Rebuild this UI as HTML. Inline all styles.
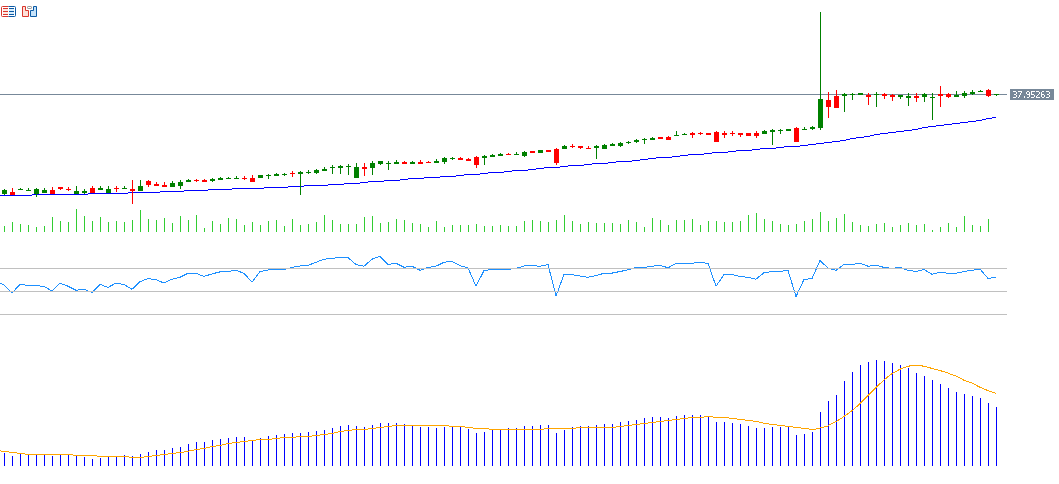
<!DOCTYPE html>
<html><head><meta charset="utf-8"><style>
html,body{margin:0;padding:0;background:#fff;width:1059px;height:484px;overflow:hidden;position:relative}
</style></head><body>
<svg width="1059" height="484" style="position:absolute;left:0;top:0" shape-rendering="crispEdges">
<rect x="0" y="94" width="1007" height="1" fill="#778899"/>
<rect x="0" y="195" width="32" height="1" fill="#0000ff"/>
<rect x="32" y="194" width="56" height="1" fill="#0000ff"/>
<rect x="88" y="193" width="40" height="1" fill="#0000ff"/>
<rect x="128" y="192" width="32" height="1" fill="#0000ff"/>
<rect x="160" y="191" width="24" height="1" fill="#0000ff"/>
<rect x="184" y="190" width="24" height="1" fill="#0000ff"/>
<rect x="208" y="189" width="24" height="1" fill="#0000ff"/>
<rect x="232" y="188" width="32" height="1" fill="#0000ff"/>
<rect x="264" y="187" width="24" height="1" fill="#0000ff"/>
<rect x="288" y="186" width="16" height="1" fill="#0000ff"/>
<rect x="304" y="185" width="24" height="1" fill="#0000ff"/>
<rect x="328" y="184" width="16" height="1" fill="#0000ff"/>
<rect x="344" y="183" width="16" height="1" fill="#0000ff"/>
<rect x="360" y="182" width="8" height="1" fill="#0000ff"/>
<rect x="368" y="181" width="16" height="1" fill="#0000ff"/>
<rect x="384" y="180" width="16" height="1" fill="#0000ff"/>
<rect x="400" y="179" width="8" height="1" fill="#0000ff"/>
<rect x="408" y="178" width="16" height="1" fill="#0000ff"/>
<rect x="424" y="177" width="16" height="1" fill="#0000ff"/>
<rect x="440" y="176" width="16" height="1" fill="#0000ff"/>
<rect x="456" y="175" width="8" height="1" fill="#0000ff"/>
<rect x="464" y="174" width="16" height="1" fill="#0000ff"/>
<rect x="480" y="173" width="8" height="1" fill="#0000ff"/>
<rect x="488" y="172" width="16" height="1" fill="#0000ff"/>
<rect x="504" y="171" width="8" height="1" fill="#0000ff"/>
<rect x="512" y="170" width="16" height="1" fill="#0000ff"/>
<rect x="528" y="169" width="8" height="1" fill="#0000ff"/>
<rect x="536" y="168" width="8" height="1" fill="#0000ff"/>
<rect x="544" y="167" width="16" height="1" fill="#0000ff"/>
<rect x="560" y="166" width="8" height="1" fill="#0000ff"/>
<rect x="568" y="165" width="16" height="1" fill="#0000ff"/>
<rect x="584" y="164" width="8" height="1" fill="#0000ff"/>
<rect x="592" y="163" width="16" height="1" fill="#0000ff"/>
<rect x="608" y="162" width="8" height="1" fill="#0000ff"/>
<rect x="616" y="161" width="16" height="1" fill="#0000ff"/>
<rect x="632" y="160" width="8" height="1" fill="#0000ff"/>
<rect x="640" y="159" width="8" height="1" fill="#0000ff"/>
<rect x="648" y="158" width="8" height="1" fill="#0000ff"/>
<rect x="656" y="157" width="16" height="1" fill="#0000ff"/>
<rect x="672" y="156" width="8" height="1" fill="#0000ff"/>
<rect x="680" y="155" width="8" height="1" fill="#0000ff"/>
<rect x="688" y="154" width="16" height="1" fill="#0000ff"/>
<rect x="704" y="153" width="8" height="1" fill="#0000ff"/>
<rect x="712" y="152" width="16" height="1" fill="#0000ff"/>
<rect x="728" y="151" width="8" height="1" fill="#0000ff"/>
<rect x="736" y="150" width="16" height="1" fill="#0000ff"/>
<rect x="752" y="149" width="8" height="1" fill="#0000ff"/>
<rect x="760" y="148" width="16" height="1" fill="#0000ff"/>
<rect x="776" y="147" width="8" height="1" fill="#0000ff"/>
<rect x="784" y="146" width="16" height="1" fill="#0000ff"/>
<rect x="800" y="145" width="8" height="1" fill="#0000ff"/>
<rect x="808" y="144" width="8" height="1" fill="#0000ff"/>
<rect x="816" y="143" width="8" height="1" fill="#0000ff"/>
<rect x="824" y="142" width="8" height="1" fill="#0000ff"/>
<rect x="832" y="141" width="8" height="1" fill="#0000ff"/>
<rect x="840" y="140" width="6" height="1" fill="#0000ff"/>
<rect x="846" y="139" width="4" height="1" fill="#0000ff"/>
<rect x="850" y="138" width="6" height="1" fill="#0000ff"/>
<rect x="856" y="137" width="8" height="1" fill="#0000ff"/>
<rect x="864" y="136" width="6" height="1" fill="#0000ff"/>
<rect x="870" y="135" width="4" height="1" fill="#0000ff"/>
<rect x="874" y="134" width="6" height="1" fill="#0000ff"/>
<rect x="880" y="133" width="8" height="1" fill="#0000ff"/>
<rect x="888" y="132" width="8" height="1" fill="#0000ff"/>
<rect x="896" y="131" width="8" height="1" fill="#0000ff"/>
<rect x="904" y="130" width="8" height="1" fill="#0000ff"/>
<rect x="912" y="129" width="6" height="1" fill="#0000ff"/>
<rect x="918" y="128" width="4" height="1" fill="#0000ff"/>
<rect x="922" y="127" width="6" height="1" fill="#0000ff"/>
<rect x="928" y="126" width="8" height="1" fill="#0000ff"/>
<rect x="936" y="125" width="8" height="1" fill="#0000ff"/>
<rect x="944" y="124" width="8" height="1" fill="#0000ff"/>
<rect x="952" y="123" width="8" height="1" fill="#0000ff"/>
<rect x="960" y="122" width="8" height="1" fill="#0000ff"/>
<rect x="968" y="121" width="8" height="1" fill="#0000ff"/>
<rect x="976" y="120" width="6" height="1" fill="#0000ff"/>
<rect x="982" y="119" width="4" height="1" fill="#0000ff"/>
<rect x="986" y="118" width="6" height="1" fill="#0000ff"/>
<rect x="992" y="117" width="4" height="1" fill="#0000ff"/>
<rect x="4" y="189.0" width="1" height="6.0" fill="#008000"/>
<rect x="2" y="190.0" width="5" height="4.0" fill="#008000"/>
<rect x="12" y="188.0" width="1" height="7.0" fill="#ff0000"/>
<rect x="10" y="192.0" width="5" height="3.0" fill="#ff0000"/>
<rect x="20" y="188.0" width="1" height="2.0" fill="#008000"/>
<rect x="18" y="189.0" width="5" height="1" fill="#008000"/>
<rect x="28" y="188.0" width="1" height="3.0" fill="#008000"/>
<rect x="26" y="190.0" width="5" height="1" fill="#008000"/>
<rect x="36" y="188.0" width="1" height="9.0" fill="#008000"/>
<rect x="34" y="189.0" width="5" height="5.0" fill="#008000"/>
<rect x="44" y="188.0" width="1" height="5.0" fill="#008000"/>
<rect x="42" y="190.0" width="5" height="3.0" fill="#008000"/>
<rect x="52" y="187.0" width="1" height="7.0" fill="#ff0000"/>
<rect x="50" y="190.0" width="5" height="4.0" fill="#ff0000"/>
<rect x="60" y="187.0" width="1" height="3.0" fill="#ff0000"/>
<rect x="58" y="187.0" width="5" height="2.0" fill="#ff0000"/>
<rect x="68" y="187.0" width="1" height="4.0" fill="#ff0000"/>
<rect x="66" y="189.0" width="5" height="1" fill="#ff0000"/>
<rect x="76" y="186.0" width="1" height="8.0" fill="#008000"/>
<rect x="74" y="191.0" width="5" height="3.0" fill="#008000"/>
<rect x="84" y="189.0" width="1" height="5.0" fill="#008000"/>
<rect x="82" y="191.0" width="5" height="2.0" fill="#008000"/>
<rect x="92" y="186.0" width="1" height="7.0" fill="#ff0000"/>
<rect x="90" y="188.0" width="5" height="5.0" fill="#ff0000"/>
<rect x="100" y="186.0" width="1" height="4.0" fill="#008000"/>
<rect x="98" y="188.0" width="5" height="2.0" fill="#008000"/>
<rect x="108" y="186.0" width="1" height="7.0" fill="#008000"/>
<rect x="106" y="189.0" width="5" height="4.0" fill="#008000"/>
<rect x="116" y="186.0" width="1" height="6.0" fill="#ff0000"/>
<rect x="114" y="188.0" width="5" height="1" fill="#ff0000"/>
<rect x="124" y="186.0" width="1" height="3.0" fill="#008000"/>
<rect x="122" y="188.0" width="5" height="1" fill="#008000"/>
<rect x="132" y="180.0" width="1" height="24.0" fill="#ff0000"/>
<rect x="130" y="189.0" width="5" height="2.0" fill="#ff0000"/>
<rect x="140" y="180.0" width="1" height="11.0" fill="#008000"/>
<rect x="138" y="186.0" width="5" height="5.0" fill="#008000"/>
<rect x="148" y="180.0" width="1" height="7.0" fill="#ff0000"/>
<rect x="146" y="181.0" width="5" height="4.0" fill="#ff0000"/>
<rect x="156" y="182.0" width="1" height="4.0" fill="#ff0000"/>
<rect x="154" y="184.0" width="5" height="2.0" fill="#ff0000"/>
<rect x="164" y="182.0" width="1" height="5.0" fill="#ff0000"/>
<rect x="162" y="185.0" width="5" height="2.0" fill="#ff0000"/>
<rect x="172" y="181.0" width="1" height="6.0" fill="#008000"/>
<rect x="170" y="183.0" width="5" height="4.0" fill="#008000"/>
<rect x="180" y="180.0" width="1" height="9.0" fill="#008000"/>
<rect x="178" y="182.0" width="5" height="4.0" fill="#008000"/>
<rect x="188" y="179.0" width="1" height="3.0" fill="#008000"/>
<rect x="186" y="180.0" width="5" height="2.0" fill="#008000"/>
<rect x="196" y="179.0" width="1" height="3.0" fill="#ff0000"/>
<rect x="194" y="180.0" width="5" height="1" fill="#ff0000"/>
<rect x="204" y="179.0" width="1" height="3.0" fill="#ff0000"/>
<rect x="202" y="180.0" width="5" height="2.0" fill="#ff0000"/>
<rect x="212" y="178.0" width="1" height="4.0" fill="#008000"/>
<rect x="210" y="179.0" width="5" height="2.0" fill="#008000"/>
<rect x="220" y="177.0" width="1" height="3.0" fill="#008000"/>
<rect x="218" y="178.0" width="5" height="2.0" fill="#008000"/>
<rect x="228" y="177.0" width="1" height="2.0" fill="#008000"/>
<rect x="226" y="178.0" width="5" height="1" fill="#008000"/>
<rect x="236" y="176.0" width="1" height="3.0" fill="#008000"/>
<rect x="234" y="178.0" width="5" height="1" fill="#008000"/>
<rect x="244" y="176.0" width="1" height="4.0" fill="#ff0000"/>
<rect x="242" y="178.0" width="5" height="1" fill="#ff0000"/>
<rect x="252" y="175.0" width="1" height="7.0" fill="#ff0000"/>
<rect x="250" y="178.0" width="5" height="4.0" fill="#ff0000"/>
<rect x="260" y="175.0" width="1" height="3.0" fill="#008000"/>
<rect x="258" y="175.0" width="5" height="3.0" fill="#008000"/>
<rect x="268" y="174.0" width="1" height="5.0" fill="#008000"/>
<rect x="266" y="175.0" width="5" height="1" fill="#008000"/>
<rect x="276" y="173.0" width="1" height="3.0" fill="#008000"/>
<rect x="274" y="174.0" width="5" height="2.0" fill="#008000"/>
<rect x="284" y="173.0" width="1" height="3.0" fill="#008000"/>
<rect x="282" y="174.0" width="5" height="1" fill="#008000"/>
<rect x="292" y="171.0" width="1" height="6.0" fill="#ff0000"/>
<rect x="290" y="173.0" width="5" height="1" fill="#ff0000"/>
<rect x="300" y="171.0" width="1" height="24.0" fill="#008000"/>
<rect x="298" y="172.0" width="5" height="2.0" fill="#008000"/>
<rect x="308" y="170.0" width="1" height="4.0" fill="#008000"/>
<rect x="306" y="172.0" width="5" height="1" fill="#008000"/>
<rect x="316" y="169.0" width="1" height="5.0" fill="#008000"/>
<rect x="314" y="170.0" width="5" height="3.0" fill="#008000"/>
<rect x="324" y="167.0" width="1" height="4.0" fill="#008000"/>
<rect x="322" y="169.0" width="5" height="2.0" fill="#008000"/>
<rect x="332" y="165.0" width="1" height="9.0" fill="#008000"/>
<rect x="330" y="167.0" width="5" height="1" fill="#008000"/>
<rect x="340" y="165.0" width="1" height="9.0" fill="#008000"/>
<rect x="338" y="166.0" width="5" height="2.0" fill="#008000"/>
<rect x="348" y="164.0" width="1" height="11.0" fill="#008000"/>
<rect x="346" y="166.0" width="5" height="1" fill="#008000"/>
<rect x="356" y="163.0" width="1" height="15.0" fill="#008000"/>
<rect x="354" y="167.0" width="5" height="11.0" fill="#008000"/>
<rect x="364" y="163.0" width="1" height="13.0" fill="#ff0000"/>
<rect x="362" y="167.0" width="5" height="2.0" fill="#ff0000"/>
<rect x="372" y="161.0" width="1" height="14.0" fill="#008000"/>
<rect x="370" y="163.0" width="5" height="5.0" fill="#008000"/>
<rect x="380" y="161.0" width="1" height="4.0" fill="#008000"/>
<rect x="378" y="161.0" width="5" height="3.0" fill="#008000"/>
<rect x="388" y="161.0" width="1" height="9.0" fill="#008000"/>
<rect x="386" y="163.0" width="5" height="1" fill="#008000"/>
<rect x="396" y="160.0" width="1" height="4.0" fill="#008000"/>
<rect x="394" y="162.0" width="5" height="2.0" fill="#008000"/>
<rect x="404" y="161.0" width="1" height="3.0" fill="#ff0000"/>
<rect x="402" y="162.0" width="5" height="2.0" fill="#ff0000"/>
<rect x="412" y="161.0" width="1" height="3.0" fill="#008000"/>
<rect x="410" y="162.0" width="5" height="2.0" fill="#008000"/>
<rect x="420" y="160.0" width="1" height="4.0" fill="#ff0000"/>
<rect x="418" y="162.0" width="5" height="2.0" fill="#ff0000"/>
<rect x="428" y="161.0" width="1" height="2.0" fill="#ff0000"/>
<rect x="426" y="162.0" width="5" height="1" fill="#ff0000"/>
<rect x="436" y="159.0" width="1" height="4.0" fill="#008000"/>
<rect x="434" y="161.0" width="5" height="2.0" fill="#008000"/>
<rect x="444" y="157.0" width="1" height="7.0" fill="#008000"/>
<rect x="442" y="158.0" width="5" height="4.0" fill="#008000"/>
<rect x="452" y="157.0" width="1" height="3.0" fill="#008000"/>
<rect x="450" y="158.0" width="5" height="1" fill="#008000"/>
<rect x="460" y="157.0" width="1" height="3.0" fill="#ff0000"/>
<rect x="458" y="158.0" width="5" height="2.0" fill="#ff0000"/>
<rect x="468" y="158.0" width="1" height="3.0" fill="#ff0000"/>
<rect x="466" y="159.0" width="5" height="2.0" fill="#ff0000"/>
<rect x="476" y="156.0" width="1" height="12.0" fill="#ff0000"/>
<rect x="474" y="157.0" width="5" height="8.0" fill="#ff0000"/>
<rect x="484" y="155.0" width="1" height="10.0" fill="#008000"/>
<rect x="482" y="156.0" width="5" height="2.0" fill="#008000"/>
<rect x="492" y="154.0" width="1" height="3.0" fill="#008000"/>
<rect x="490" y="155.0" width="5" height="2.0" fill="#008000"/>
<rect x="500" y="153.0" width="1" height="3.0" fill="#008000"/>
<rect x="498" y="154.0" width="5" height="2.0" fill="#008000"/>
<rect x="508" y="153.0" width="1" height="2.0" fill="#ff0000"/>
<rect x="506" y="154.0" width="5" height="1" fill="#ff0000"/>
<rect x="516" y="152.0" width="1" height="3.0" fill="#008000"/>
<rect x="514" y="154.0" width="5" height="1" fill="#008000"/>
<rect x="524" y="151.0" width="1" height="6.0" fill="#008000"/>
<rect x="522" y="152.0" width="5" height="4.0" fill="#008000"/>
<rect x="532" y="151.0" width="1" height="2.0" fill="#ff0000"/>
<rect x="530" y="151.0" width="5" height="2.0" fill="#ff0000"/>
<rect x="540" y="150.0" width="1" height="3.0" fill="#008000"/>
<rect x="538" y="150.0" width="5" height="3.0" fill="#008000"/>
<rect x="548" y="150.0" width="1" height="2.0" fill="#ff0000"/>
<rect x="546" y="150.0" width="5" height="2.0" fill="#ff0000"/>
<rect x="556" y="148.0" width="1" height="17.0" fill="#ff0000"/>
<rect x="554" y="149.0" width="5" height="14.0" fill="#ff0000"/>
<rect x="564" y="145.0" width="1" height="4.0" fill="#008000"/>
<rect x="562" y="146.0" width="5" height="3.0" fill="#008000"/>
<rect x="572" y="144.0" width="1" height="4.0" fill="#ff0000"/>
<rect x="570" y="146.0" width="5" height="1" fill="#ff0000"/>
<rect x="580" y="146.0" width="1" height="3.0" fill="#ff0000"/>
<rect x="578" y="146.0" width="5" height="2.0" fill="#ff0000"/>
<rect x="588" y="146.0" width="1" height="3.0" fill="#ff0000"/>
<rect x="586" y="148.0" width="5" height="1" fill="#ff0000"/>
<rect x="596" y="145.0" width="1" height="14.0" fill="#008000"/>
<rect x="594" y="146.0" width="5" height="2.0" fill="#008000"/>
<rect x="604" y="144.0" width="1" height="5.0" fill="#008000"/>
<rect x="602" y="145.0" width="5" height="4.0" fill="#008000"/>
<rect x="612" y="143.0" width="1" height="3.0" fill="#008000"/>
<rect x="610" y="144.0" width="5" height="2.0" fill="#008000"/>
<rect x="620" y="142.0" width="1" height="5.0" fill="#008000"/>
<rect x="618" y="143.0" width="5" height="3.0" fill="#008000"/>
<rect x="628" y="141.0" width="1" height="3.0" fill="#008000"/>
<rect x="626" y="142.0" width="5" height="1" fill="#008000"/>
<rect x="636" y="139.0" width="1" height="4.0" fill="#008000"/>
<rect x="634" y="140.0" width="5" height="2.0" fill="#008000"/>
<rect x="644" y="138.0" width="1" height="6.0" fill="#008000"/>
<rect x="642" y="139.0" width="5" height="1" fill="#008000"/>
<rect x="652" y="137.0" width="1" height="3.0" fill="#008000"/>
<rect x="650" y="138.0" width="5" height="2.0" fill="#008000"/>
<rect x="660" y="137.0" width="1" height="2.0" fill="#ff0000"/>
<rect x="658" y="137.0" width="5" height="2.0" fill="#ff0000"/>
<rect x="668" y="136.0" width="1" height="4.0" fill="#ff0000"/>
<rect x="666" y="137.0" width="5" height="3.0" fill="#ff0000"/>
<rect x="676" y="131.0" width="1" height="5.0" fill="#008000"/>
<rect x="674" y="135.0" width="5" height="1" fill="#008000"/>
<rect x="684" y="133.0" width="1" height="2.0" fill="#008000"/>
<rect x="682" y="134.0" width="5" height="1" fill="#008000"/>
<rect x="692" y="132.0" width="1" height="6.0" fill="#ff0000"/>
<rect x="690" y="133.0" width="5" height="2.0" fill="#ff0000"/>
<rect x="700" y="132.0" width="1" height="3.0" fill="#ff0000"/>
<rect x="698" y="133.0" width="5" height="1" fill="#ff0000"/>
<rect x="708" y="133.0" width="1" height="2.0" fill="#ff0000"/>
<rect x="706" y="133.0" width="5" height="2.0" fill="#ff0000"/>
<rect x="716" y="131.0" width="1" height="11.0" fill="#ff0000"/>
<rect x="714" y="132.0" width="5" height="10.0" fill="#ff0000"/>
<rect x="724" y="131.0" width="1" height="7.0" fill="#ff0000"/>
<rect x="722" y="133.0" width="5" height="2.0" fill="#ff0000"/>
<rect x="732" y="131.0" width="1" height="5.0" fill="#ff0000"/>
<rect x="730" y="133.0" width="5" height="1" fill="#ff0000"/>
<rect x="740" y="133.0" width="1" height="4.0" fill="#ff0000"/>
<rect x="738" y="133.0" width="5" height="2.0" fill="#ff0000"/>
<rect x="748" y="133.0" width="1" height="3.0" fill="#ff0000"/>
<rect x="746" y="133.0" width="5" height="3.0" fill="#ff0000"/>
<rect x="756" y="131.0" width="1" height="7.0" fill="#ff0000"/>
<rect x="754" y="133.0" width="5" height="3.0" fill="#ff0000"/>
<rect x="764" y="130.0" width="1" height="4.0" fill="#008000"/>
<rect x="762" y="131.0" width="5" height="3.0" fill="#008000"/>
<rect x="772" y="129.0" width="1" height="16.0" fill="#008000"/>
<rect x="770" y="130.0" width="5" height="2.0" fill="#008000"/>
<rect x="780" y="129.0" width="1" height="5.0" fill="#008000"/>
<rect x="778" y="130.0" width="5" height="1" fill="#008000"/>
<rect x="788" y="129.0" width="1" height="2.0" fill="#008000"/>
<rect x="786" y="129.0" width="5" height="2.0" fill="#008000"/>
<rect x="796" y="127.0" width="1" height="15.0" fill="#ff0000"/>
<rect x="794" y="128.0" width="5" height="14.0" fill="#ff0000"/>
<rect x="804" y="127.0" width="1" height="3.0" fill="#008000"/>
<rect x="802" y="129.0" width="5" height="1" fill="#008000"/>
<rect x="812" y="126.0" width="1" height="4.0" fill="#008000"/>
<rect x="810" y="127.0" width="5" height="2.0" fill="#008000"/>
<rect x="820" y="12.0" width="1" height="118.0" fill="#008000"/>
<rect x="818" y="99.0" width="5" height="29.0" fill="#008000"/>
<rect x="828" y="92.0" width="1" height="26.0" fill="#ff0000"/>
<rect x="826" y="100.0" width="5" height="7.0" fill="#ff0000"/>
<rect x="836" y="90.0" width="1" height="18.0" fill="#ff0000"/>
<rect x="834" y="96.0" width="5" height="12.0" fill="#ff0000"/>
<rect x="844" y="93.0" width="1" height="19.0" fill="#008000"/>
<rect x="842" y="94.0" width="5" height="2.0" fill="#008000"/>
<rect x="852" y="93.0" width="1" height="7.0" fill="#008000"/>
<rect x="850" y="94.0" width="5" height="1" fill="#008000"/>
<rect x="860" y="93.0" width="1" height="2.0" fill="#008000"/>
<rect x="858" y="93.0" width="5" height="2.0" fill="#008000"/>
<rect x="868" y="93.0" width="1" height="12.0" fill="#ff0000"/>
<rect x="866" y="95.0" width="5" height="2.0" fill="#ff0000"/>
<rect x="876" y="92.0" width="1" height="15.0" fill="#008000"/>
<rect x="874" y="94.0" width="5" height="1" fill="#008000"/>
<rect x="884" y="93.0" width="1" height="6.0" fill="#ff0000"/>
<rect x="882" y="94.0" width="5" height="2.0" fill="#ff0000"/>
<rect x="892" y="94.0" width="1" height="7.0" fill="#ff0000"/>
<rect x="890" y="95.0" width="5" height="2.0" fill="#ff0000"/>
<rect x="900" y="95.0" width="1" height="4.0" fill="#008000"/>
<rect x="898" y="95.0" width="5" height="2.0" fill="#008000"/>
<rect x="908" y="93.0" width="1" height="13.0" fill="#008000"/>
<rect x="906" y="96.0" width="5" height="2.0" fill="#008000"/>
<rect x="916" y="93.0" width="1" height="9.0" fill="#ff0000"/>
<rect x="914" y="96.0" width="5" height="2.0" fill="#ff0000"/>
<rect x="924" y="93.0" width="1" height="9.0" fill="#008000"/>
<rect x="922" y="94.0" width="5" height="3.0" fill="#008000"/>
<rect x="932" y="93.0" width="1" height="27.0" fill="#008000"/>
<rect x="930" y="97.0" width="5" height="1" fill="#008000"/>
<rect x="940" y="86.0" width="1" height="21.0" fill="#ff0000"/>
<rect x="938" y="94.0" width="5" height="2.0" fill="#ff0000"/>
<rect x="948" y="93.0" width="1" height="5.0" fill="#ff0000"/>
<rect x="946" y="94.0" width="5" height="3.0" fill="#ff0000"/>
<rect x="956" y="91.0" width="1" height="6.0" fill="#008000"/>
<rect x="954" y="95.0" width="5" height="2.0" fill="#008000"/>
<rect x="964" y="91.0" width="1" height="7.0" fill="#008000"/>
<rect x="962" y="93.0" width="5" height="3.0" fill="#008000"/>
<rect x="972" y="90.0" width="1" height="5.0" fill="#008000"/>
<rect x="970" y="92.0" width="5" height="2.0" fill="#008000"/>
<rect x="980" y="90.0" width="1" height="2.0" fill="#008000"/>
<rect x="978" y="91.0" width="5" height="1" fill="#008000"/>
<rect x="988" y="89.0" width="1" height="8.0" fill="#ff0000"/>
<rect x="986" y="90.0" width="5" height="6.0" fill="#ff0000"/>
<rect x="996" y="94.0" width="1" height="2.0" fill="#008000"/>
<rect x="994" y="94.0" width="5" height="1" fill="#008000"/>
<rect x="4" y="226" width="1" height="6" fill="#32cd32"/>
<rect x="12" y="222" width="1" height="10" fill="#32cd32"/>
<rect x="20" y="224" width="1" height="8" fill="#32cd32"/>
<rect x="28" y="225" width="1" height="7" fill="#32cd32"/>
<rect x="36" y="227" width="1" height="5" fill="#32cd32"/>
<rect x="44" y="226" width="1" height="6" fill="#32cd32"/>
<rect x="52" y="217" width="1" height="15" fill="#32cd32"/>
<rect x="60" y="221" width="1" height="11" fill="#32cd32"/>
<rect x="68" y="222" width="1" height="10" fill="#32cd32"/>
<rect x="76" y="209" width="1" height="23" fill="#32cd32"/>
<rect x="84" y="216" width="1" height="16" fill="#32cd32"/>
<rect x="92" y="221" width="1" height="11" fill="#32cd32"/>
<rect x="100" y="217" width="1" height="15" fill="#32cd32"/>
<rect x="108" y="222" width="1" height="10" fill="#32cd32"/>
<rect x="116" y="221" width="1" height="11" fill="#32cd32"/>
<rect x="124" y="222" width="1" height="10" fill="#32cd32"/>
<rect x="132" y="220" width="1" height="12" fill="#32cd32"/>
<rect x="140" y="210" width="1" height="22" fill="#32cd32"/>
<rect x="148" y="219" width="1" height="13" fill="#32cd32"/>
<rect x="156" y="220" width="1" height="12" fill="#32cd32"/>
<rect x="164" y="218" width="1" height="14" fill="#32cd32"/>
<rect x="172" y="223" width="1" height="9" fill="#32cd32"/>
<rect x="180" y="216" width="1" height="16" fill="#32cd32"/>
<rect x="188" y="220" width="1" height="12" fill="#32cd32"/>
<rect x="196" y="215" width="1" height="17" fill="#32cd32"/>
<rect x="204" y="228" width="1" height="4" fill="#32cd32"/>
<rect x="212" y="221" width="1" height="11" fill="#32cd32"/>
<rect x="220" y="224" width="1" height="8" fill="#32cd32"/>
<rect x="228" y="218" width="1" height="14" fill="#32cd32"/>
<rect x="236" y="219" width="1" height="13" fill="#32cd32"/>
<rect x="244" y="225" width="1" height="7" fill="#32cd32"/>
<rect x="252" y="222" width="1" height="10" fill="#32cd32"/>
<rect x="260" y="225" width="1" height="7" fill="#32cd32"/>
<rect x="268" y="221" width="1" height="11" fill="#32cd32"/>
<rect x="276" y="220" width="1" height="12" fill="#32cd32"/>
<rect x="284" y="226" width="1" height="6" fill="#32cd32"/>
<rect x="292" y="219" width="1" height="13" fill="#32cd32"/>
<rect x="300" y="225" width="1" height="7" fill="#32cd32"/>
<rect x="308" y="224" width="1" height="8" fill="#32cd32"/>
<rect x="316" y="222" width="1" height="10" fill="#32cd32"/>
<rect x="324" y="215" width="1" height="17" fill="#32cd32"/>
<rect x="332" y="220" width="1" height="12" fill="#32cd32"/>
<rect x="340" y="224" width="1" height="8" fill="#32cd32"/>
<rect x="348" y="224" width="1" height="8" fill="#32cd32"/>
<rect x="356" y="224" width="1" height="8" fill="#32cd32"/>
<rect x="364" y="217" width="1" height="15" fill="#32cd32"/>
<rect x="372" y="216" width="1" height="16" fill="#32cd32"/>
<rect x="380" y="223" width="1" height="9" fill="#32cd32"/>
<rect x="388" y="222" width="1" height="10" fill="#32cd32"/>
<rect x="396" y="219" width="1" height="13" fill="#32cd32"/>
<rect x="404" y="220" width="1" height="12" fill="#32cd32"/>
<rect x="412" y="223" width="1" height="9" fill="#32cd32"/>
<rect x="420" y="224" width="1" height="8" fill="#32cd32"/>
<rect x="428" y="227" width="1" height="5" fill="#32cd32"/>
<rect x="436" y="221" width="1" height="11" fill="#32cd32"/>
<rect x="444" y="227" width="1" height="5" fill="#32cd32"/>
<rect x="452" y="225" width="1" height="7" fill="#32cd32"/>
<rect x="460" y="225" width="1" height="7" fill="#32cd32"/>
<rect x="468" y="225" width="1" height="7" fill="#32cd32"/>
<rect x="476" y="224" width="1" height="8" fill="#32cd32"/>
<rect x="484" y="226" width="1" height="6" fill="#32cd32"/>
<rect x="492" y="226" width="1" height="6" fill="#32cd32"/>
<rect x="500" y="225" width="1" height="7" fill="#32cd32"/>
<rect x="508" y="226" width="1" height="6" fill="#32cd32"/>
<rect x="516" y="226" width="1" height="6" fill="#32cd32"/>
<rect x="524" y="221" width="1" height="11" fill="#32cd32"/>
<rect x="532" y="220" width="1" height="12" fill="#32cd32"/>
<rect x="540" y="221" width="1" height="11" fill="#32cd32"/>
<rect x="548" y="222" width="1" height="10" fill="#32cd32"/>
<rect x="556" y="220" width="1" height="12" fill="#32cd32"/>
<rect x="564" y="215" width="1" height="17" fill="#32cd32"/>
<rect x="572" y="221" width="1" height="11" fill="#32cd32"/>
<rect x="580" y="224" width="1" height="8" fill="#32cd32"/>
<rect x="588" y="222" width="1" height="10" fill="#32cd32"/>
<rect x="596" y="223" width="1" height="9" fill="#32cd32"/>
<rect x="604" y="223" width="1" height="9" fill="#32cd32"/>
<rect x="612" y="223" width="1" height="9" fill="#32cd32"/>
<rect x="620" y="224" width="1" height="8" fill="#32cd32"/>
<rect x="628" y="220" width="1" height="12" fill="#32cd32"/>
<rect x="636" y="222" width="1" height="10" fill="#32cd32"/>
<rect x="644" y="227" width="1" height="5" fill="#32cd32"/>
<rect x="652" y="218" width="1" height="14" fill="#32cd32"/>
<rect x="660" y="220" width="1" height="12" fill="#32cd32"/>
<rect x="668" y="225" width="1" height="7" fill="#32cd32"/>
<rect x="676" y="220" width="1" height="12" fill="#32cd32"/>
<rect x="684" y="220" width="1" height="12" fill="#32cd32"/>
<rect x="692" y="219" width="1" height="13" fill="#32cd32"/>
<rect x="700" y="225" width="1" height="7" fill="#32cd32"/>
<rect x="708" y="221" width="1" height="11" fill="#32cd32"/>
<rect x="716" y="221" width="1" height="11" fill="#32cd32"/>
<rect x="724" y="222" width="1" height="10" fill="#32cd32"/>
<rect x="732" y="222" width="1" height="10" fill="#32cd32"/>
<rect x="740" y="221" width="1" height="11" fill="#32cd32"/>
<rect x="748" y="215" width="1" height="17" fill="#32cd32"/>
<rect x="756" y="213" width="1" height="19" fill="#32cd32"/>
<rect x="764" y="219" width="1" height="13" fill="#32cd32"/>
<rect x="772" y="221" width="1" height="11" fill="#32cd32"/>
<rect x="780" y="224" width="1" height="8" fill="#32cd32"/>
<rect x="788" y="225" width="1" height="7" fill="#32cd32"/>
<rect x="796" y="224" width="1" height="8" fill="#32cd32"/>
<rect x="804" y="221" width="1" height="11" fill="#32cd32"/>
<rect x="812" y="219" width="1" height="13" fill="#32cd32"/>
<rect x="820" y="212" width="1" height="20" fill="#32cd32"/>
<rect x="828" y="221" width="1" height="11" fill="#32cd32"/>
<rect x="836" y="218" width="1" height="14" fill="#32cd32"/>
<rect x="844" y="214" width="1" height="18" fill="#32cd32"/>
<rect x="852" y="222" width="1" height="10" fill="#32cd32"/>
<rect x="860" y="225" width="1" height="7" fill="#32cd32"/>
<rect x="868" y="226" width="1" height="6" fill="#32cd32"/>
<rect x="876" y="224" width="1" height="8" fill="#32cd32"/>
<rect x="884" y="223" width="1" height="9" fill="#32cd32"/>
<rect x="892" y="227" width="1" height="5" fill="#32cd32"/>
<rect x="900" y="225" width="1" height="7" fill="#32cd32"/>
<rect x="908" y="223" width="1" height="9" fill="#32cd32"/>
<rect x="916" y="225" width="1" height="7" fill="#32cd32"/>
<rect x="924" y="224" width="1" height="8" fill="#32cd32"/>
<rect x="932" y="230" width="1" height="2" fill="#32cd32"/>
<rect x="940" y="227" width="1" height="5" fill="#32cd32"/>
<rect x="948" y="223" width="1" height="9" fill="#32cd32"/>
<rect x="956" y="227" width="1" height="5" fill="#32cd32"/>
<rect x="964" y="216" width="1" height="16" fill="#32cd32"/>
<rect x="972" y="225" width="1" height="7" fill="#32cd32"/>
<rect x="980" y="226" width="1" height="6" fill="#32cd32"/>
<rect x="988" y="219" width="1" height="13" fill="#32cd32"/>
<polyline points="0,283 4,285.2 12,293 20,284.4 28,285.4 36,285.4 44,286.5 52,290.9 60,283.1 68,286.2 76,290.3 84,289.3 92,292.4 100,284.4 108,287.4 116,283.1 124,284.5 132,289.3 140,281.7 148,278.5 156,279.7 164,283.1 172,279.2 180,277.3 188,273.3 196,273.3 204,276.4 212,273.9 220,271.9 228,271.5 236,270.3 244,273.3 252,282.2 260,271.5 268,270 276,269.4 284,269.4 292,267.4 300,266 308,265.3 316,262.3 324,259.2 332,258.3 340,257.6 348,257.6 356,264.5 364,266.2 372,259.2 380,256.4 388,264.5 396,263.3 404,267.2 412,266.2 420,270.3 428,267.4 436,266.2 444,262.3 452,261.3 460,265.7 468,267.8 476,286.2 484,270.6 492,269.4 500,269.4 508,269.4 516,268.4 524,266 532,265.7 540,266.2 548,264.5 556,296 564,274.6 572,274.6 580,276 588,277.3 596,275.5 604,273.3 612,273.1 620,271.5 628,269.9 636,267.4 644,267.4 652,266.2 660,265.3 668,267.8 676,263.3 684,263.3 692,263.3 700,262.3 708,263.5 716,286.2 724,274.6 732,274.6 740,276.4 748,277.3 756,279.2 764,272.7 772,271.5 780,271.5 788,270.3 796,296.6 804,279.5 812,278.5 820,260.4 828,268.2 836,270.3 844,264.5 852,264.5 860,263.3 868,266.2 876,265.3 884,267.4 892,268.4 900,267.4 908,270.3 916,271.5 924,269.4 932,274.3 940,272.3 948,273.3 956,273.3 964,271.5 972,270.3 980,269 988,278.5 996,277.3" fill="none" stroke="#1e90ff" stroke-width="1"/>
<rect x="0" y="268" width="1007" height="1" fill="#c0c0c0"/>
<rect x="0" y="291" width="1007" height="1" fill="#c0c0c0"/>
<rect x="0" y="314" width="1007" height="1" fill="#c0c0c0"/>
<rect x="4" y="453" width="1" height="13" fill="#0000ff"/>
<rect x="12" y="456" width="1" height="10" fill="#0000ff"/>
<rect x="20" y="454" width="1" height="12" fill="#0000ff"/>
<rect x="28" y="455" width="1" height="11" fill="#0000ff"/>
<rect x="36" y="455" width="1" height="11" fill="#0000ff"/>
<rect x="44" y="455" width="1" height="11" fill="#0000ff"/>
<rect x="52" y="456" width="1" height="10" fill="#0000ff"/>
<rect x="60" y="455" width="1" height="11" fill="#0000ff"/>
<rect x="68" y="455" width="1" height="11" fill="#0000ff"/>
<rect x="76" y="456" width="1" height="10" fill="#0000ff"/>
<rect x="84" y="457" width="1" height="9" fill="#0000ff"/>
<rect x="92" y="459" width="1" height="7" fill="#0000ff"/>
<rect x="100" y="458" width="1" height="8" fill="#0000ff"/>
<rect x="108" y="457" width="1" height="9" fill="#0000ff"/>
<rect x="116" y="457" width="1" height="9" fill="#0000ff"/>
<rect x="124" y="455" width="1" height="11" fill="#0000ff"/>
<rect x="132" y="456" width="1" height="10" fill="#0000ff"/>
<rect x="140" y="454" width="1" height="12" fill="#0000ff"/>
<rect x="148" y="452" width="1" height="14" fill="#0000ff"/>
<rect x="156" y="450" width="1" height="16" fill="#0000ff"/>
<rect x="164" y="450" width="1" height="16" fill="#0000ff"/>
<rect x="172" y="448" width="1" height="18" fill="#0000ff"/>
<rect x="180" y="447" width="1" height="19" fill="#0000ff"/>
<rect x="188" y="444" width="1" height="22" fill="#0000ff"/>
<rect x="196" y="442" width="1" height="24" fill="#0000ff"/>
<rect x="204" y="442" width="1" height="24" fill="#0000ff"/>
<rect x="212" y="440" width="1" height="26" fill="#0000ff"/>
<rect x="220" y="439" width="1" height="27" fill="#0000ff"/>
<rect x="228" y="438" width="1" height="28" fill="#0000ff"/>
<rect x="236" y="437" width="1" height="29" fill="#0000ff"/>
<rect x="244" y="437" width="1" height="29" fill="#0000ff"/>
<rect x="252" y="441" width="1" height="25" fill="#0000ff"/>
<rect x="260" y="438" width="1" height="28" fill="#0000ff"/>
<rect x="268" y="436" width="1" height="30" fill="#0000ff"/>
<rect x="276" y="435" width="1" height="31" fill="#0000ff"/>
<rect x="284" y="434" width="1" height="32" fill="#0000ff"/>
<rect x="292" y="433" width="1" height="33" fill="#0000ff"/>
<rect x="300" y="433" width="1" height="33" fill="#0000ff"/>
<rect x="308" y="432" width="1" height="34" fill="#0000ff"/>
<rect x="316" y="431" width="1" height="35" fill="#0000ff"/>
<rect x="324" y="430" width="1" height="36" fill="#0000ff"/>
<rect x="332" y="428" width="1" height="38" fill="#0000ff"/>
<rect x="340" y="426" width="1" height="40" fill="#0000ff"/>
<rect x="348" y="425" width="1" height="41" fill="#0000ff"/>
<rect x="356" y="426" width="1" height="40" fill="#0000ff"/>
<rect x="364" y="427" width="1" height="39" fill="#0000ff"/>
<rect x="372" y="425" width="1" height="41" fill="#0000ff"/>
<rect x="380" y="423" width="1" height="43" fill="#0000ff"/>
<rect x="388" y="423" width="1" height="43" fill="#0000ff"/>
<rect x="396" y="423" width="1" height="43" fill="#0000ff"/>
<rect x="404" y="424" width="1" height="42" fill="#0000ff"/>
<rect x="412" y="426" width="1" height="40" fill="#0000ff"/>
<rect x="420" y="427" width="1" height="39" fill="#0000ff"/>
<rect x="428" y="427" width="1" height="39" fill="#0000ff"/>
<rect x="436" y="428" width="1" height="38" fill="#0000ff"/>
<rect x="444" y="427" width="1" height="39" fill="#0000ff"/>
<rect x="452" y="427" width="1" height="39" fill="#0000ff"/>
<rect x="460" y="427" width="1" height="39" fill="#0000ff"/>
<rect x="468" y="429" width="1" height="37" fill="#0000ff"/>
<rect x="476" y="433" width="1" height="33" fill="#0000ff"/>
<rect x="484" y="432" width="1" height="34" fill="#0000ff"/>
<rect x="492" y="430" width="1" height="36" fill="#0000ff"/>
<rect x="500" y="430" width="1" height="36" fill="#0000ff"/>
<rect x="508" y="428" width="1" height="38" fill="#0000ff"/>
<rect x="516" y="428" width="1" height="38" fill="#0000ff"/>
<rect x="524" y="426" width="1" height="40" fill="#0000ff"/>
<rect x="532" y="426" width="1" height="40" fill="#0000ff"/>
<rect x="540" y="425" width="1" height="41" fill="#0000ff"/>
<rect x="548" y="425" width="1" height="41" fill="#0000ff"/>
<rect x="556" y="433" width="1" height="33" fill="#0000ff"/>
<rect x="564" y="430" width="1" height="36" fill="#0000ff"/>
<rect x="572" y="427" width="1" height="39" fill="#0000ff"/>
<rect x="580" y="426" width="1" height="40" fill="#0000ff"/>
<rect x="588" y="426" width="1" height="40" fill="#0000ff"/>
<rect x="596" y="425" width="1" height="41" fill="#0000ff"/>
<rect x="604" y="424" width="1" height="42" fill="#0000ff"/>
<rect x="612" y="424" width="1" height="42" fill="#0000ff"/>
<rect x="620" y="422" width="1" height="44" fill="#0000ff"/>
<rect x="628" y="421" width="1" height="45" fill="#0000ff"/>
<rect x="636" y="420" width="1" height="46" fill="#0000ff"/>
<rect x="644" y="418" width="1" height="48" fill="#0000ff"/>
<rect x="652" y="417" width="1" height="49" fill="#0000ff"/>
<rect x="660" y="417" width="1" height="49" fill="#0000ff"/>
<rect x="668" y="418" width="1" height="48" fill="#0000ff"/>
<rect x="676" y="416" width="1" height="50" fill="#0000ff"/>
<rect x="684" y="415" width="1" height="51" fill="#0000ff"/>
<rect x="692" y="415" width="1" height="51" fill="#0000ff"/>
<rect x="700" y="415" width="1" height="51" fill="#0000ff"/>
<rect x="708" y="416" width="1" height="50" fill="#0000ff"/>
<rect x="716" y="422" width="1" height="44" fill="#0000ff"/>
<rect x="724" y="422" width="1" height="44" fill="#0000ff"/>
<rect x="732" y="423" width="1" height="43" fill="#0000ff"/>
<rect x="740" y="424" width="1" height="42" fill="#0000ff"/>
<rect x="748" y="426" width="1" height="40" fill="#0000ff"/>
<rect x="756" y="428" width="1" height="38" fill="#0000ff"/>
<rect x="764" y="428" width="1" height="38" fill="#0000ff"/>
<rect x="772" y="427" width="1" height="39" fill="#0000ff"/>
<rect x="780" y="427" width="1" height="39" fill="#0000ff"/>
<rect x="788" y="427" width="1" height="39" fill="#0000ff"/>
<rect x="796" y="435" width="1" height="31" fill="#0000ff"/>
<rect x="804" y="434" width="1" height="32" fill="#0000ff"/>
<rect x="812" y="432" width="1" height="34" fill="#0000ff"/>
<rect x="820" y="412" width="1" height="54" fill="#0000ff"/>
<rect x="828" y="401" width="1" height="65" fill="#0000ff"/>
<rect x="836" y="395" width="1" height="71" fill="#0000ff"/>
<rect x="844" y="381" width="1" height="85" fill="#0000ff"/>
<rect x="852" y="372" width="1" height="94" fill="#0000ff"/>
<rect x="860" y="365" width="1" height="101" fill="#0000ff"/>
<rect x="868" y="362" width="1" height="104" fill="#0000ff"/>
<rect x="876" y="360" width="1" height="106" fill="#0000ff"/>
<rect x="884" y="361" width="1" height="105" fill="#0000ff"/>
<rect x="892" y="363" width="1" height="103" fill="#0000ff"/>
<rect x="900" y="365" width="1" height="101" fill="#0000ff"/>
<rect x="908" y="368" width="1" height="98" fill="#0000ff"/>
<rect x="916" y="373" width="1" height="93" fill="#0000ff"/>
<rect x="924" y="376" width="1" height="90" fill="#0000ff"/>
<rect x="932" y="380" width="1" height="86" fill="#0000ff"/>
<rect x="940" y="384" width="1" height="82" fill="#0000ff"/>
<rect x="948" y="388" width="1" height="78" fill="#0000ff"/>
<rect x="956" y="392" width="1" height="74" fill="#0000ff"/>
<rect x="964" y="394" width="1" height="72" fill="#0000ff"/>
<rect x="972" y="396" width="1" height="70" fill="#0000ff"/>
<rect x="980" y="398" width="1" height="68" fill="#0000ff"/>
<rect x="988" y="403" width="1" height="63" fill="#0000ff"/>
<rect x="996" y="407" width="1" height="59" fill="#0000ff"/>
<rect x="0" y="450" width="1" height="1" fill="#ffa500"/>
<rect x="1" y="451" width="8" height="1" fill="#ffa500"/>
<rect x="9" y="452" width="8" height="1" fill="#ffa500"/>
<rect x="17" y="453" width="8" height="1" fill="#ffa500"/>
<rect x="25" y="454" width="48" height="1" fill="#ffa500"/>
<rect x="73" y="455" width="24" height="1" fill="#ffa500"/>
<rect x="97" y="456" width="32" height="1" fill="#ffa500"/>
<rect x="129" y="457" width="15" height="1" fill="#ffa500"/>
<rect x="144" y="456" width="8" height="1" fill="#ffa500"/>
<rect x="152" y="455" width="8" height="1" fill="#ffa500"/>
<rect x="160" y="454" width="8" height="1" fill="#ffa500"/>
<rect x="168" y="453" width="8" height="1" fill="#ffa500"/>
<rect x="176" y="452" width="8" height="1" fill="#ffa500"/>
<rect x="184" y="451" width="5" height="1" fill="#ffa500"/>
<rect x="189" y="450" width="5" height="1" fill="#ffa500"/>
<rect x="194" y="449" width="6" height="1" fill="#ffa500"/>
<rect x="200" y="448" width="6" height="1" fill="#ffa500"/>
<rect x="206" y="447" width="4" height="1" fill="#ffa500"/>
<rect x="210" y="446" width="6" height="1" fill="#ffa500"/>
<rect x="216" y="445" width="6" height="1" fill="#ffa500"/>
<rect x="222" y="444" width="4" height="1" fill="#ffa500"/>
<rect x="226" y="443" width="6" height="1" fill="#ffa500"/>
<rect x="232" y="442" width="8" height="1" fill="#ffa500"/>
<rect x="240" y="441" width="8" height="1" fill="#ffa500"/>
<rect x="248" y="440" width="8" height="1" fill="#ffa500"/>
<rect x="256" y="439" width="16" height="1" fill="#ffa500"/>
<rect x="272" y="438" width="8" height="1" fill="#ffa500"/>
<rect x="280" y="437" width="16" height="1" fill="#ffa500"/>
<rect x="296" y="436" width="16" height="1" fill="#ffa500"/>
<rect x="312" y="435" width="8" height="1" fill="#ffa500"/>
<rect x="320" y="434" width="8" height="1" fill="#ffa500"/>
<rect x="328" y="433" width="6" height="1" fill="#ffa500"/>
<rect x="334" y="432" width="4" height="1" fill="#ffa500"/>
<rect x="338" y="431" width="6" height="1" fill="#ffa500"/>
<rect x="344" y="430" width="8" height="1" fill="#ffa500"/>
<rect x="352" y="429" width="16" height="1" fill="#ffa500"/>
<rect x="368" y="428" width="8" height="1" fill="#ffa500"/>
<rect x="376" y="427" width="8" height="1" fill="#ffa500"/>
<rect x="384" y="426" width="8" height="1" fill="#ffa500"/>
<rect x="392" y="425" width="57" height="1" fill="#ffa500"/>
<rect x="449" y="426" width="16" height="1" fill="#ffa500"/>
<rect x="465" y="427" width="8" height="1" fill="#ffa500"/>
<rect x="473" y="428" width="16" height="1" fill="#ffa500"/>
<rect x="489" y="429" width="55" height="1" fill="#ffa500"/>
<rect x="544" y="428" width="32" height="1" fill="#ffa500"/>
<rect x="576" y="427" width="40" height="1" fill="#ffa500"/>
<rect x="616" y="426" width="8" height="1" fill="#ffa500"/>
<rect x="624" y="425" width="8" height="1" fill="#ffa500"/>
<rect x="632" y="424" width="8" height="1" fill="#ffa500"/>
<rect x="640" y="423" width="8" height="1" fill="#ffa500"/>
<rect x="648" y="422" width="8" height="1" fill="#ffa500"/>
<rect x="656" y="421" width="8" height="1" fill="#ffa500"/>
<rect x="664" y="420" width="8" height="1" fill="#ffa500"/>
<rect x="672" y="419" width="8" height="1" fill="#ffa500"/>
<rect x="680" y="418" width="8" height="1" fill="#ffa500"/>
<rect x="688" y="417" width="16" height="1" fill="#ffa500"/>
<rect x="704" y="416" width="9" height="1" fill="#ffa500"/>
<rect x="713" y="417" width="16" height="1" fill="#ffa500"/>
<rect x="729" y="418" width="8" height="1" fill="#ffa500"/>
<rect x="737" y="419" width="8" height="1" fill="#ffa500"/>
<rect x="745" y="420" width="8" height="1" fill="#ffa500"/>
<rect x="753" y="421" width="6" height="1" fill="#ffa500"/>
<rect x="759" y="422" width="4" height="1" fill="#ffa500"/>
<rect x="763" y="423" width="6" height="1" fill="#ffa500"/>
<rect x="769" y="424" width="8" height="1" fill="#ffa500"/>
<rect x="777" y="425" width="8" height="1" fill="#ffa500"/>
<rect x="785" y="426" width="8" height="1" fill="#ffa500"/>
<rect x="793" y="427" width="8" height="1" fill="#ffa500"/>
<rect x="801" y="428" width="8" height="1" fill="#ffa500"/>
<rect x="809" y="429" width="7" height="1" fill="#ffa500"/>
<rect x="816" y="428" width="4" height="1" fill="#ffa500"/>
<rect x="820" y="427" width="4" height="1" fill="#ffa500"/>
<rect x="824" y="426" width="4" height="1" fill="#ffa500"/>
<polyline points="828,425.5 836.5,421.4 844,416.5 852,410.6 860,403.7 868,395.4 876,387.5 884,379.9 892,373.6 900,369.2 908,366.3 912,365.5 920,365.5 924,366.3 932,368.4 940,370.5 948,373.1 956,376.1 964,380.2 972,383 980,387.3 988,390.6 996,393.4" fill="none" stroke="#ffa500" stroke-width="1"/>
<rect x="1010" y="89" width="44" height="11" fill="#778899"/>
<rect x="1013" y="91" width="1" height="1" fill="#fff"/><rect x="1014" y="91" width="1" height="1" fill="#fff"/><rect x="1015" y="91" width="1" height="1" fill="#fff"/><rect x="1016" y="92" width="1" height="1" fill="#fff"/><rect x="1016" y="93" width="1" height="1" fill="#fff"/><rect x="1014" y="94" width="1" height="1" fill="#fff"/><rect x="1015" y="94" width="1" height="1" fill="#fff"/><rect x="1016" y="95" width="1" height="1" fill="#fff"/><rect x="1016" y="96" width="1" height="1" fill="#fff"/><rect x="1013" y="97" width="1" height="1" fill="#fff"/><rect x="1014" y="97" width="1" height="1" fill="#fff"/><rect x="1015" y="97" width="1" height="1" fill="#fff"/><rect x="1018" y="91" width="1" height="1" fill="#fff"/><rect x="1019" y="91" width="1" height="1" fill="#fff"/><rect x="1020" y="91" width="1" height="1" fill="#fff"/><rect x="1021" y="91" width="1" height="1" fill="#fff"/><rect x="1021" y="92" width="1" height="1" fill="#fff"/><rect x="1020" y="93" width="1" height="1" fill="#fff"/><rect x="1020" y="94" width="1" height="1" fill="#fff"/><rect x="1019" y="95" width="1" height="1" fill="#fff"/><rect x="1019" y="96" width="1" height="1" fill="#fff"/><rect x="1018" y="97" width="1" height="1" fill="#fff"/><rect x="1024" y="96" width="1" height="1" fill="#fff"/><rect x="1024" y="97" width="1" height="1" fill="#fff"/><rect x="1027" y="91" width="1" height="1" fill="#fff"/><rect x="1028" y="91" width="1" height="1" fill="#fff"/><rect x="1026" y="92" width="1" height="1" fill="#fff"/><rect x="1029" y="92" width="1" height="1" fill="#fff"/><rect x="1026" y="93" width="1" height="1" fill="#fff"/><rect x="1029" y="93" width="1" height="1" fill="#fff"/><rect x="1027" y="94" width="1" height="1" fill="#fff"/><rect x="1028" y="94" width="1" height="1" fill="#fff"/><rect x="1029" y="94" width="1" height="1" fill="#fff"/><rect x="1029" y="95" width="1" height="1" fill="#fff"/><rect x="1029" y="96" width="1" height="1" fill="#fff"/><rect x="1027" y="97" width="1" height="1" fill="#fff"/><rect x="1028" y="97" width="1" height="1" fill="#fff"/><rect x="1031" y="91" width="1" height="1" fill="#fff"/><rect x="1032" y="91" width="1" height="1" fill="#fff"/><rect x="1033" y="91" width="1" height="1" fill="#fff"/><rect x="1034" y="91" width="1" height="1" fill="#fff"/><rect x="1031" y="92" width="1" height="1" fill="#fff"/><rect x="1031" y="93" width="1" height="1" fill="#fff"/><rect x="1031" y="94" width="1" height="1" fill="#fff"/><rect x="1032" y="94" width="1" height="1" fill="#fff"/><rect x="1033" y="94" width="1" height="1" fill="#fff"/><rect x="1034" y="95" width="1" height="1" fill="#fff"/><rect x="1034" y="96" width="1" height="1" fill="#fff"/><rect x="1031" y="97" width="1" height="1" fill="#fff"/><rect x="1032" y="97" width="1" height="1" fill="#fff"/><rect x="1033" y="97" width="1" height="1" fill="#fff"/><rect x="1036" y="91" width="1" height="1" fill="#fff"/><rect x="1037" y="91" width="1" height="1" fill="#fff"/><rect x="1038" y="91" width="1" height="1" fill="#fff"/><rect x="1039" y="92" width="1" height="1" fill="#fff"/><rect x="1039" y="93" width="1" height="1" fill="#fff"/><rect x="1038" y="94" width="1" height="1" fill="#fff"/><rect x="1037" y="95" width="1" height="1" fill="#fff"/><rect x="1036" y="96" width="1" height="1" fill="#fff"/><rect x="1036" y="97" width="1" height="1" fill="#fff"/><rect x="1037" y="97" width="1" height="1" fill="#fff"/><rect x="1038" y="97" width="1" height="1" fill="#fff"/><rect x="1039" y="97" width="1" height="1" fill="#fff"/><rect x="1042" y="91" width="1" height="1" fill="#fff"/><rect x="1043" y="91" width="1" height="1" fill="#fff"/><rect x="1041" y="92" width="1" height="1" fill="#fff"/><rect x="1041" y="93" width="1" height="1" fill="#fff"/><rect x="1041" y="94" width="1" height="1" fill="#fff"/><rect x="1042" y="94" width="1" height="1" fill="#fff"/><rect x="1043" y="94" width="1" height="1" fill="#fff"/><rect x="1041" y="95" width="1" height="1" fill="#fff"/><rect x="1044" y="95" width="1" height="1" fill="#fff"/><rect x="1041" y="96" width="1" height="1" fill="#fff"/><rect x="1044" y="96" width="1" height="1" fill="#fff"/><rect x="1042" y="97" width="1" height="1" fill="#fff"/><rect x="1043" y="97" width="1" height="1" fill="#fff"/><rect x="1046" y="91" width="1" height="1" fill="#fff"/><rect x="1047" y="91" width="1" height="1" fill="#fff"/><rect x="1048" y="91" width="1" height="1" fill="#fff"/><rect x="1049" y="92" width="1" height="1" fill="#fff"/><rect x="1049" y="93" width="1" height="1" fill="#fff"/><rect x="1047" y="94" width="1" height="1" fill="#fff"/><rect x="1048" y="94" width="1" height="1" fill="#fff"/><rect x="1049" y="95" width="1" height="1" fill="#fff"/><rect x="1049" y="96" width="1" height="1" fill="#fff"/><rect x="1046" y="97" width="1" height="1" fill="#fff"/><rect x="1047" y="97" width="1" height="1" fill="#fff"/><rect x="1048" y="97" width="1" height="1" fill="#fff"/>
</svg>

<svg width="40" height="20" style="position:absolute;left:0;top:0">
 <path d="M8.5,6.5 H2.5 Q1.5,6.5 1.5,7.5 V15.5 Q1.5,16.5 2.5,16.5 H8.5" fill="none" stroke="#d9362c" stroke-width="1"/>
 <path d="M8.5,6.5 H14.5 Q15.5,6.5 15.5,7.5 V15.5 Q15.5,16.5 14.5,16.5 H8.5" fill="none" stroke="#0b5aa5" stroke-width="1"/>
 <rect x="3" y="9" width="5" height="2" fill="#fde8e2"/>
 <rect x="3" y="12" width="5" height="2" fill="#fde8e2"/>
 <rect x="9" y="9" width="5" height="2" fill="#d6ecfb"/>
 <rect x="9" y="12" width="5" height="2" fill="#d6ecfb"/>
 <rect x="3" y="8" width="5" height="1" fill="#d9362c"/>
 <rect x="3" y="11" width="5" height="1" fill="#d9362c"/>
 <rect x="3" y="14" width="5" height="1" fill="#d9362c"/>
 <rect x="9" y="8" width="5" height="1" fill="#0b5aa5"/>
 <rect x="9" y="11" width="5" height="1" fill="#0b5aa5"/>
 <rect x="9" y="14" width="5" height="1" fill="#0b5aa5"/>
 <path d="M22.5,6.5 h3 v4 h3 v6 h-6 z" fill="#fde0d8" stroke="#d9362c" stroke-width="1"/>
 <path d="M36.5,6.5 h-3 v4 h-3 v6 h6 z" fill="#c6e3fa" stroke="#0b5aa5" stroke-width="1"/>
 <rect x="27.5" y="6.5" width="4" height="2" rx="0.6" fill="#fff" stroke="#9a9a9a" stroke-width="1"/>
</svg>

</body></html>
